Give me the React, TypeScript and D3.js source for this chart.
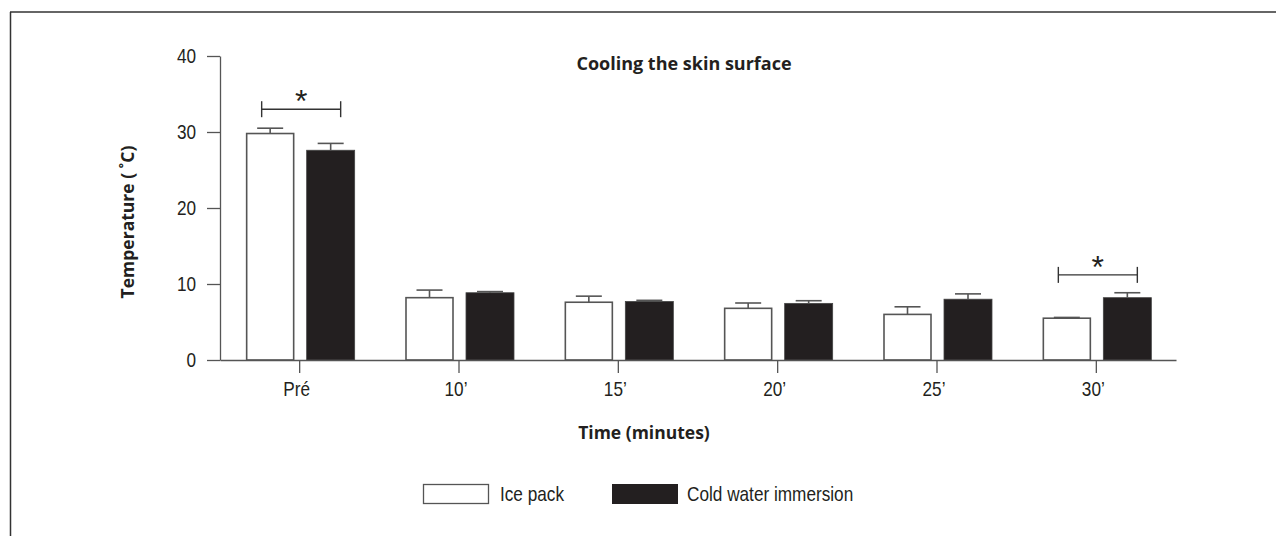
import * as d3 from 'd3';
import { useEffect, useRef } from 'react';

// momentos da medição
const times = ['Pré', '10’', '15’', '20’', '25’', '30’'];
// médias (°C)
const icePack = [29.8, 8.2, 7.6, 6.8, 6.0, 5.5];
const icePackErr = [0.7, 1.0, 0.8, 0.7, 1.0, 0.1];
const coldWater = [27.6, 8.85, 7.7, 7.45, 8.0, 8.2];
const coldWaterErr = [0.9, 0.15, 0.15, 0.35, 0.7, 0.65];
const yTicks = [0, 10, 20, 30, 40];
// pares com diferença significativa (índice, altura do colchete)
const signif = [
  { idx: 0, level: 33 },
  { idx: 5, level: 11.2 },
];

const narrow = '"Liberation Sans", Arial, sans-serif';
const bold = '"Open Sans", "Noto Sans", sans-serif';
const ink = '#231f20';
const grey = '#555';
const SQ = 0.86; // "condensa" a fonte na horizontal

const App = () => {
  const ref = useRef<SVGSVGElement>(null);
  const W = 1276;
  const H = 536;

  useEffect(() => {
    const svg = d3.select(ref.current);
    svg.selectAll('*').remove();

    const margin = { left: 220, right: 100, top: 56, bottom: 176 };

    // moldura: só topo e esquerda
    svg.append('line').attr('x1', 10).attr('x2', W).attr('y1', 12).attr('y2', 12)
      .attr('stroke', '#333').attr('stroke-width', 1.5);
    svg.append('line').attr('x1', 10.5).attr('x2', 10.5).attr('y1', 12).attr('y2', H)
      .attr('stroke', '#333').attr('stroke-width', 1.5);

    const x = d3.scaleBand().domain(times).range([margin.left, W - margin.right]);
    const y = d3.scaleLinear().domain([0, 40]).range([H - margin.bottom, margin.top]);
    const cx = (t: string) => (x(t) as number) + x.bandwidth() / 2;

    // eixo Y
    const yAxis = svg.append('g').attr('transform', `translate(${margin.left},0)`)
      .call(d3.axisLeft(y).tickValues(yTicks).tickSize(13).tickSizeOuter(0).tickPadding(11));
    yAxis.select('.domain').attr('stroke', grey).attr('stroke-width', 1.3);
    yAxis.selectAll('.tick line').attr('stroke', grey).attr('stroke-width', 1.3);
    yAxis.selectAll('text').style('font-family', narrow).style('font-size', '20px').attr('fill', ink)
      .attr('x', -24 / SQ).attr('transform', `scale(${SQ},1)`);

    // barras
    const groups = times.map((t, i) => ({ t, i }));
    const bars = svg.append('g');
    bars.selectAll('.white').data(groups).enter().append('rect')
      .attr('x', d => cx(d.t) - 53)
      .attr('width', 47)
      .attr('y', d => y(icePack[d.i]))
      .attr('height', d => y(0) - y(icePack[d.i]))
      .attr('fill', 'white').attr('stroke', grey).attr('stroke-width', 1.6);
    bars.selectAll('.black').data(groups).enter().append('rect')
      .attr('x', d => cx(d.t) + 7)
      .attr('width', 48)
      .attr('y', d => y(coldWater[d.i]))
      .attr('height', d => y(0) - y(coldWater[d.i]))
      .attr('fill', ink).attr('stroke', '#444').attr('stroke-width', 0.8);

    // barras de erro (só para cima)
    const errs = [
      ...groups.map(d => ({ c: cx(d.t) - 29.5, v: icePack[d.i], e: icePackErr[d.i] })),
      ...groups.map(d => ({ c: cx(d.t) + 31, v: coldWater[d.i], e: coldWaterErr[d.i] })),
    ];
    const eg = svg.append('g').attr('stroke', grey).attr('stroke-width', 1.6);
    errs.forEach(d => {
      eg.append('line').attr('x1', d.c).attr('x2', d.c).attr('y1', y(d.v)).attr('y2', y(d.v + d.e));
      eg.append('line').attr('x1', d.c - 13).attr('x2', d.c + 13).attr('y1', y(d.v + d.e)).attr('y2', y(d.v + d.e));
    });

    // eixo X
    const xAxis = svg.append('g').attr('transform', `translate(0,${y(0)})`)
      .call(d3.axisBottom(x).tickSize(13).tickSizeOuter(0).tickPadding(9));
    xAxis.select('.domain').attr('stroke', grey).attr('stroke-width', 1.3);
    xAxis.selectAll('.tick line').attr('stroke', grey).attr('stroke-width', 1.3);
    xAxis.selectAll('text').style('font-family', narrow).style('font-size', '20px').attr('fill', ink)
      .attr('x', -3 / SQ).attr('transform', `scale(${SQ},1)`);

    // colchetes de significância
    signif.forEach(s => {
      const t = times[s.idx];
      const x1 = cx(t) - 38;
      const x2 = cx(t) + 41;
      const yy = y(s.level);
      const g = svg.append('g').attr('stroke', '#333').attr('stroke-width', 1.4);
      g.append('line').attr('x1', x1).attr('x2', x2).attr('y1', yy).attr('y2', yy);
      g.append('line').attr('x1', x1).attr('x2', x1).attr('y1', yy - 8).attr('y2', yy + 8);
      g.append('line').attr('x1', x2).attr('x2', x2).attr('y1', yy - 8).attr('y2', yy + 8);
      svg.append('text').attr('x', (x1 + x2) / 2).attr('y', yy + 3)
        .attr('text-anchor', 'middle').style('font-family', narrow).style('font-size', '32px')
        .attr('fill', ink).text('*');
    });

    // títulos
    svg.append('text').attr('x', 684).attr('y', 70).attr('text-anchor', 'middle')
      .style('font-family', bold).style('font-weight', 'bold').style('font-size', '18px')
      .attr('fill', ink).text('Cooling the skin surface');
    svg.append('text').attr('x', 644).attr('y', 439).attr('text-anchor', 'middle')
      .style('font-family', bold).style('font-weight', 'bold').style('font-size', '17.5px')
      .attr('fill', ink).text('Time (minutes)');
    svg.append('text').attr('transform', `translate(134,222) rotate(-90)`).attr('text-anchor', 'middle')
      .style('font-family', bold).style('font-weight', 'bold').style('font-size', '17.5px')
      .attr('fill', ink).text('Temperature ( ˚C)');

    // legenda
    const leg = svg.append('g');
    leg.append('rect').attr('x', 423.5).attr('y', 484.5).attr('width', 65).attr('height', 19)
      .attr('fill', 'white').attr('stroke', grey).attr('stroke-width', 1.3);
    leg.append('text').attr('transform', `translate(500,501) scale(${SQ},1)`)
      .style('font-family', narrow).style('font-size', '20px')
      .attr('fill', ink).text('Ice pack');
    leg.append('rect').attr('x', 612).attr('y', 484).attr('width', 66).attr('height', 20).attr('fill', ink);
    leg.append('text').attr('transform', `translate(687,501) scale(${SQ},1)`)
      .style('font-family', narrow).style('font-size', '20px')
      .attr('fill', ink).text('Cold water immersion');
  }, []);

  return (
    <svg ref={ref} width={W} height={H}
      style={{ position: 'absolute', left: 0, top: 0, background: 'white' }} />
  );
};

export default App;
